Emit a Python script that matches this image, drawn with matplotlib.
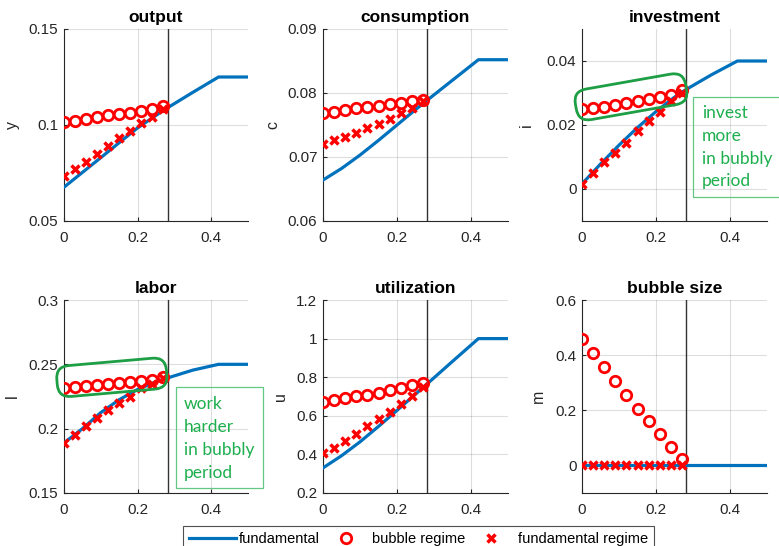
import matplotlib
matplotlib.use("Agg")
import matplotlib.pyplot as plt
from matplotlib.patches import FancyBboxPatch, Rectangle
from matplotlib.transforms import Affine2D
from matplotlib.lines import Line2D
from matplotlib.ticker import FuncFormatter

plt.rcParams['font.family'] = ['Liberation Sans', 'DejaVu Sans']

# ---------------- data ----------------
mark_x = [0.0, 0.03, 0.06, 0.09, 0.12, 0.15, 0.18, 0.21, 0.24, 0.27]
fund_x = [0.0, 0.05, 0.10, 0.15, 0.20, 0.25, 0.28, 0.35, 0.42, 0.50]
switch_x = 0.282

output_fund = [0.0676, 0.0753, 0.0830, 0.0908, 0.0985, 0.1050, 0.1088, 0.1170, 0.1250, 0.1250]
output_bub = [0.1018, 0.1023, 0.1032, 0.1041, 0.1050, 0.1057, 0.1063, 0.1074, 0.1084, 0.1097]
output_fr = [0.0735, 0.0770, 0.0806, 0.0850, 0.0893, 0.0930, 0.0971, 0.1010, 0.1041, 0.1085]

cons_fund = [0.0664, 0.0682, 0.0703, 0.0726, 0.0750, 0.0774, 0.0788, 0.0820, 0.0852, 0.0852]
cons_bub = [0.0768, 0.0771, 0.0774, 0.0776, 0.0778, 0.0780, 0.0783, 0.0785, 0.0787, 0.0789]
cons_fr = [0.0720, 0.0726, 0.0731, 0.0737, 0.0745, 0.0752, 0.0760, 0.0768, 0.0776, 0.0787]

inv_fund = [0.0016, 0.0078, 0.0137, 0.0192, 0.0242, 0.0287, 0.0310, 0.0357, 0.0400, 0.0400]
inv_bub = [0.0251, 0.0254, 0.0257, 0.0262, 0.0268, 0.0274, 0.0281, 0.0288, 0.0295, 0.0308]
inv_fr = [0.0016, 0.0050, 0.0083, 0.0114, 0.0145, 0.0182, 0.0211, 0.0242, 0.0275, 0.0301]

lab_fund = [0.1889, 0.2000, 0.2125, 0.2225, 0.2305, 0.2365, 0.2393, 0.2455, 0.2500, 0.2500]
lab_bub = [0.2316, 0.2322, 0.2329, 0.2337, 0.2345, 0.2352, 0.2360, 0.2368, 0.2380, 0.2401]
lab_fr = [0.1889, 0.1948, 0.2023, 0.2083, 0.2142, 0.2199, 0.2246, 0.2316, 0.2347, 0.2393]

util_fund = [0.330, 0.393, 0.465, 0.545, 0.628, 0.712, 0.763, 0.882, 1.000, 1.000]
util_bub = [0.672, 0.684, 0.693, 0.702, 0.710, 0.720, 0.733, 0.743, 0.757, 0.771]
util_fr = [0.408, 0.435, 0.468, 0.504, 0.546, 0.582, 0.622, 0.662, 0.702, 0.750]

bsize_fund = [0.0, 0.0, 0.0, 0.0, 0.0, 0.0, 0.0, 0.0, 0.0, 0.0]
bsize_bub = [0.457, 0.406, 0.358, 0.305, 0.255, 0.206, 0.160, 0.113, 0.067, 0.022]
bsize_fr = [0.0, 0.0, 0.0, 0.0, 0.0, 0.0, 0.0, 0.0, 0.0, 0.0]

titles = ["output", "consumption", "investment", "labor", "utilization", "bubble size"]
ylabels = ["y", "c", "i", "l", "u", "m"]
ylims = [(0.05, 0.15), (0.06, 0.09), (-0.01, 0.05), (0.15, 0.30), (0.2, 1.2), (-0.1, 0.6)]
yticks = [[0.05, 0.1, 0.15], [0.06, 0.07, 0.08, 0.09], [0.0, 0.02, 0.04],
          [0.15, 0.2, 0.25, 0.3], [0.2, 0.4, 0.6, 0.8, 1.0, 1.2], [0.0, 0.2, 0.4, 0.6]]
xticks = [0.0, 0.2, 0.4]
fund_series = [output_fund, cons_fund, inv_fund, lab_fund, util_fund, bsize_fund]
bub_series = [output_bub, cons_bub, inv_bub, lab_bub, util_bub, bsize_bub]
fr_series = [output_fr, cons_fr, inv_fr, lab_fr, util_fr, bsize_fr]
legend_labels = ["fundamental", "bubble regime", "fundamental regime"]
note_invest = ["invest", "more", "in bubbly", "period"]
note_labor = ["work", "harder", "in bubbly", "period"]

# ---------------- style ----------------
W, H = 779, 546
BLUE = "#0072BD"
RED = "#FF0000"
DARK = "#262626"
GREEN_TXT = "#1DAF4E"
GREEN_BOX = "#62C882"
GREEN_RING = "#1E9E45"

fig = plt.figure(figsize=(W / 100, H / 100), dpi=100)

lefts = [64, 323, 582]
widths = [184, 185, 185]
tops = [29, 300]
heights = [192, 193]
ylabel_x = [-0.28, -0.27, -0.30, -0.28, -0.232, -0.238]

fmt = FuncFormatter(lambda v, p: f"{v:g}")
axes = []
for i in range(6):
    r, c = divmod(i, 3)
    ax = fig.add_axes([lefts[c] / W, 1 - (tops[r] + heights[r]) / H, widths[c] / W, heights[r] / H])
    axes.append(ax)
    ax.set_xlim(0, 0.5)
    ax.set_ylim(*ylims[i])
    ax.set_xticks(xticks)
    ax.set_yticks(yticks[i])
    ax.xaxis.set_major_formatter(fmt)
    ax.yaxis.set_major_formatter(fmt)
    ax.grid(True, color=DARK, alpha=0.15, lw=0.8)
    ax.set_axisbelow(True)
    for s in ["top", "right"]:
        ax.spines[s].set_visible(False)
    for s in ["left", "bottom"]:
        ax.spines[s].set_color(DARK)
        ax.spines[s].set_linewidth(0.8)
    ax.tick_params(direction="in", length=3, width=0.8, color=DARK, labelcolor=DARK, labelsize=11)
    ax.tick_params(axis="x", pad=7)
    ax.tick_params(axis="y", pad=4)
    ax.set_title(titles[i], fontsize=12.5, fontweight="bold", pad=5)
    ax.set_ylabel(ylabels[i], fontsize=11.5, color=DARK, va="center", ha="center")
    ax.yaxis.set_label_coords(ylabel_x[i], 0.5)

    ax.plot(fund_x, fund_series[i], color=BLUE, lw=2.3, zorder=3)
    ax.axvline(switch_x, color="#333333", lw=1.0, zorder=2)
    ax.plot(mark_x, bub_series[i], ls="none", marker="o", ms=7.5, mfc="none", mec=RED, mew=2.0, zorder=5)
    ax.plot(mark_x, fr_series[i], ls="none", marker="x", ms=5.5, mec=RED, mew=2.5, zorder=6)


def ring(ax, xc, yc, w, h, r, ang):
    cx, cy = ax.transData.transform((xc, yc))
    cxi, cyi = fig.dpi_scale_trans.inverted().transform((cx, cy))
    tr = Affine2D().rotate_deg(ang).translate(cxi, cyi) + fig.dpi_scale_trans
    p = FancyBboxPatch((-w / 200, -h / 200), w / 100, h / 100,
                       boxstyle=f"round,pad=0,rounding_size={r / 100}",
                       transform=tr, fill=False, ec=GREEN_RING, lw=2.0, zorder=10)
    fig.add_artist(p)


ring(axes[2], 0.1324, 0.0288, 112, 31, 13, 10)
ring(axes[3], 0.130, 0.2399, 110, 31, 13, 5)


def note(x0, y0, x1, y1, lines, base_y, tx, pitch):
    fig.add_artist(Rectangle((x0 / W, 1 - y1 / H), (x1 - x0) / W, (y1 - y0) / H,
                             transform=fig.transFigure, fill=False, ec=GREEN_BOX, lw=0.9))
    for k, line in enumerate(lines):
        fig.text(tx / W, 1 - (base_y + k * pitch) / H, line, ha="left", va="baseline",
                 color=GREEN_TXT, fontsize=12.5, family=["Lato", "DejaVu Sans"])


note(693, 97, 800, 197, note_invest, 118, 702, 22.8)
note(176, 387, 263, 488, note_labor, 409, 184, 23.0)

handles = [
    Line2D([], [], color=BLUE, lw=2.3),
    Line2D([], [], ls="none", marker="o", ms=7.5, mfc="none", mec=RED, mew=2.0),
    Line2D([], [], ls="none", marker="x", ms=5.5, mec=RED, mew=2.5),
]
leg = fig.legend(handles, legend_labels, loc="upper left", bbox_to_anchor=(183 / W, 1 - 526 / H),
                 ncol=3, frameon=True, fancybox=False, edgecolor=DARK, fontsize=10.5,
                 handlelength=3.2, handletextpad=0.2, columnspacing=0.2, borderpad=0.4,
                 borderaxespad=0)
leg.get_frame().set_linewidth(0.8)

fig.savefig("out.png", dpi=100)
